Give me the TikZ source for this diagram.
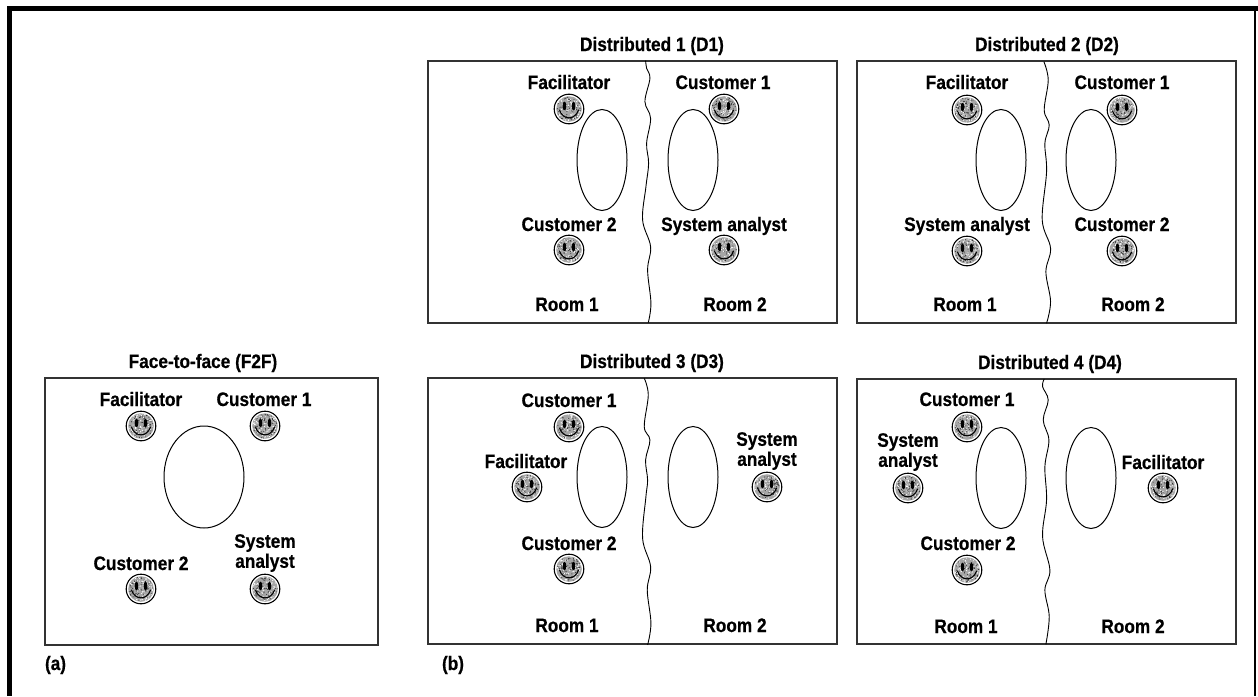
\documentclass[tikz,border=0pt]{standalone}
\usepackage{fontspec}
\setmainfont{Liberation Sans}[FakeStretch=0.885,BoldFeatures={FakeStretch=0.885,FakeBold=0.5}]
\usetikzlibrary{shapes.geometric}
\pgfmathsetseed{4711}
\tikzset{
  x=1pt,y=-1pt,
  labbase/.style={font=\fontsize{19.5}{20}\selectfont\bfseries,inner sep=0,outer sep=0,align=center,text=black},
  lab/.style={labbase,text height=14pt,text depth=0pt},
  room/.style={draw=black!80,line width=1.2pt,fill=white},
  table/.style={ellipse,draw=black,line width=1pt,inner sep=0,minimum width=50,minimum height=101,fill=white},
  bigtable/.style={ellipse,draw=black,line width=1pt,inner sep=0,minimum width=80,minimum height=102,fill=white},
  wall/.style={draw=black,line width=.9pt},
  smiley/.pic={
    \fill[white] (0,0) circle[radius=15.5];
    \draw[black,line width=1.1pt] (0,0) circle[radius=14.8];
    \fill[black!35] (0,0) circle[radius=12.8];
    \foreach \k in {1,...,70}{
      \pgfmathsetmacro{\aa}{rnd*360}\pgfmathsetmacro{\rr}{12.2*sqrt(rnd)}
      \fill[black!80] (\aa:\rr) circle[radius=.55];
      \pgfmathsetmacro{\ab}{rnd*360}\pgfmathsetmacro{\rs}{12.2*sqrt(rnd)}
      \fill[white] (\ab:\rs) circle[radius=.6];
    }
    \fill[black] (-4.5,-3) ellipse[x radius=1.8,y radius=4.4];
    \fill[black] (4.5,-3) ellipse[x radius=1.8,y radius=4.4];
    \draw[black,line width=1.1pt,line cap=round] (-9.5,1) .. controls (-6,11.5) and (6,11.5) .. (9.5,1);
  }
}
\begin{document}
\begin{tikzpicture}
\useasboundingbox (0,0) rectangle (1258,696);
\fill[white] (0,0) rectangle (1258,696);
% outer frame
\fill[black] (7,6) rectangle (1258,11);
\fill[black] (7,6) rectangle (12,696);
\fill[black] (1254.2,6) rectangle (1256.2,696);
% boxes
\draw[room] (45,378) rectangle (378,645);
\draw[room] (428,61) rectangle (837,323);
\draw[room] (857,61) rectangle (1236,323);
\draw[room] (428,378) rectangle (837,644);
\draw[room] (857,379) rectangle (1236,644);
% walls (coordinates in thirds of a pixel)
\begin{scope}[x=.3333pt,y=-.3333pt]
\draw[wall,shift={(1260,60)}] plot[smooth,tension=.6] coordinates {(677,122) (680,145) (690,175) (675,245) (692,295) (680,370) (686,430) (678,500) (668,600) (692,680) (683,750) (693,850) (685,908)};
\draw[wall,shift={(1860,1110)}] plot[smooth,tension=.6] coordinates {(73,25) (85,75) (73,170) (90,210) (77,270) (83,330) (78,380) (68,505) (92,590) (82,660) (93,760) (83,825)};
\draw[wall,shift={(3030,165)}] plot[smooth,tension=.6] coordinates {(102,20) (115,75) (103,165) (118,210) (105,265) (110,350) (97,495) (122,580) (108,650) (122,740) (110,805)};
\draw[wall,shift={(2550,1050)}] plot[smooth,tension=.6] coordinates {(583,87) (578,110) (595,150) (580,210) (597,270) (585,350) (590,450) (578,560) (600,660) (585,720) (598,800) (588,883)};
\end{scope}
% tables
\node[bigtable] (t0) at (204,477) {};
\node[table] (t1a) at (602,160) {};
\node[table] (t1b) at (693,160) {};
\node[table] (t2a) at (1001,160) {};
\node[table] (t2b) at (1091,160) {};
\node[table] (t3a) at (602,477) {};
\node[table] (t3b) at (693,477) {};
\node[table] (t4a) at (1001,478) {};
\node[table] (t4b) at (1091,478) {};
% smileys
\foreach \p in {(141,426),(265,426),(141,589),(265,589),
  (569,109),(724,109),(569,250),(724,250),
  (967,110),(1122,110),(967,251),(1122,251),
  (569,427),(527,487),(569,569),(767,487),
  (967,427),(908,488),(967,570),(1163,488)}
  \pic at \p {smiley};
% titles
\node[lab] (ti0) at (203,361) {Face-to-face (F2F)};
\node[lab] (ti1) at (652,44) {Distributed 1 (D1)};
\node[lab] (ti2) at (1047,44) {Distributed 2 (D2)};
\node[lab] (ti3) at (652,361) {Distributed 3 (D3)};
\node[lab] (ti4) at (1050,362) {Distributed 4 (D4)};
% F2F
\node[lab] (a1) at (141,399) {Facilitator};
\node[lab] (a2) at (264,399) {Customer 1};
\node[lab] (a3) at (141,563) {Customer 2};
\node[labbase] (a4) at (265,553) {System\\analyst};
% D1
\node[lab] (b1) at (569,82) {Facilitator};
\node[lab] (b2) at (723,82) {Customer 1};
\node[lab] (b3) at (569,224) {Customer 2};
\node[lab] (b4) at (724,224) {System analyst};
\node[lab] (b5) at (567,304) {Room 1};
\node[lab] (b6) at (735,304) {Room 2};
% D2
\node[lab] (c1) at (967,82) {Facilitator};
\node[lab] (c2) at (1122,82) {Customer 1};
\node[lab] (c3) at (967,224) {System analyst};
\node[lab] (c4) at (1122,224) {Customer 2};
\node[lab] (c5) at (965,304) {Room 1};
\node[lab] (c6) at (1133,304) {Room 2};
% D3
\node[lab] (d1) at (569,400) {Customer 1};
\node[lab] (d2) at (526,461) {Facilitator};
\node[lab] (d3) at (569,543) {Customer 2};
\node[labbase] (d4) at (767,451) {System\\analyst};
\node[lab] (d5) at (567,625) {Room 1};
\node[lab] (d6) at (735,625) {Room 2};
% D4
\node[lab] (e1) at (967,399) {Customer 1};
\node[labbase] (e2) at (908,452) {System\\analyst};
\node[lab] (e3) at (968,543) {Customer 2};
\node[lab] (e4) at (1163,462) {Facilitator};
\node[lab] (e5) at (966,626) {Room 1};
\node[lab] (e6) at (1133,626) {Room 2};
% panel letters
\node[lab,anchor=west] (pa) at (45,663) {(a)};
\node[lab,anchor=west] (pb) at (442,663) {(b)};
\end{tikzpicture}
\end{document}
